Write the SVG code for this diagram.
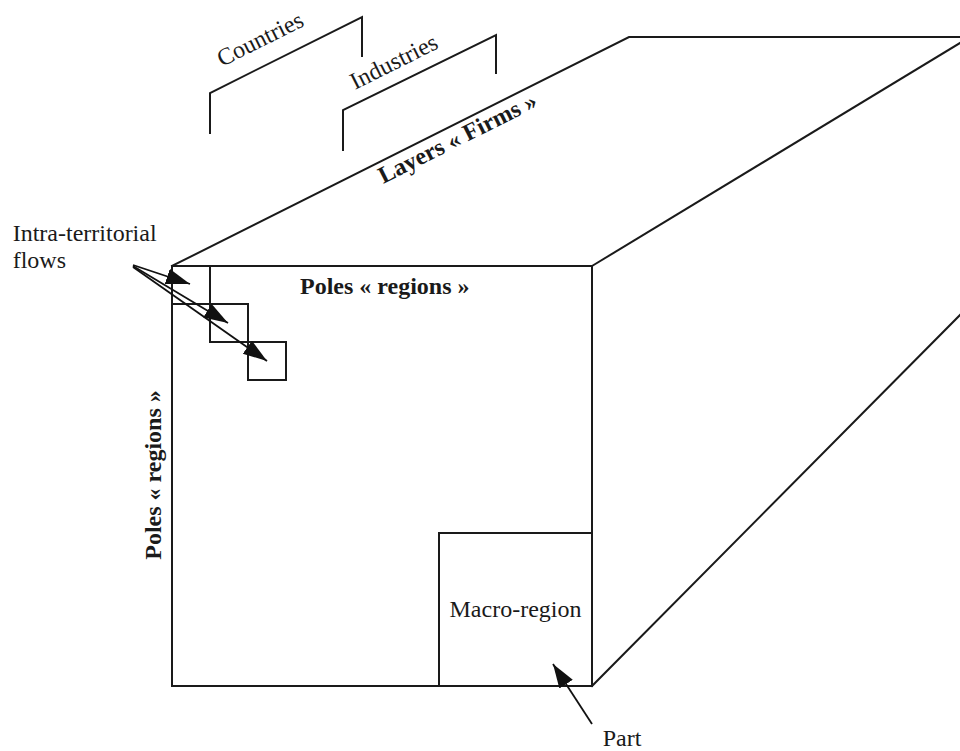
<svg xmlns="http://www.w3.org/2000/svg" width="960" height="751" viewBox="0 0 960 751">
  <style>
    .edge { fill: none; stroke: #1a1a1a; stroke-width: 2; stroke-linejoin: miter; stroke-linecap: square; }
    .arrow { fill: none; stroke: #111; stroke-width: 1.8; }
    .lbl { font-family: 'Liberation Serif', 'DejaVu Serif', serif; font-size: 24px; fill: #1a1a1a; }
    .bold { font-weight: bold; }
  </style>
  <defs>
    <marker id="head" markerUnits="userSpaceOnUse" markerWidth="26" markerHeight="18" refX="24" refY="8" orient="auto">
      <path d="M0,0 L24,8 L0,16 z" fill="#111"/>
    </marker>
  </defs>
  <rect width="960" height="751" fill="#fff"/>

  <g id="block">
    <rect class="edge" x="172" y="266" width="420" height="420"/>
    <polyline class="edge" points="172,266 629,37 960,37"/>
    <line class="edge" x1="592" y1="266" x2="960" y2="43"/>
    <line class="edge" x1="592" y1="686" x2="960" y2="315"/>
  </g>

  <g id="bracket-countries">
    <polyline class="edge" points="210,133 210,93 362,17 362,56"/>
    <text class="lbl" font-family="Liberation Serif, serif" x="263.7" y="46.1" text-anchor="middle" transform="rotate(-26.57 263.7 46.1)">Countries</text>
  </g>

  <g id="bracket-industries">
    <polyline class="edge" points="343,150 343,110 496,35 496,73"/>
    <text class="lbl" font-family="Liberation Serif, serif" x="397.3" y="68.8" text-anchor="middle" transform="rotate(-26.57 397.3 68.8)">Industries</text>
  </g>

  <g id="layers-label">
    <text class="lbl bold" font-family="Liberation Serif, serif" x="461" y="145" text-anchor="middle" transform="rotate(-26.6 461 145)">Layers « Firms »</text>
  </g>

  <g id="poles-top">
    <text class="lbl bold" font-family="Liberation Serif, serif" x="300" y="293.5">Poles « regions »</text>
  </g>

  <g id="poles-left">
    <text class="lbl bold" font-family="Liberation Serif, serif" x="161" y="475" text-anchor="middle" transform="rotate(-90 161 475)">Poles « regions »</text>
  </g>

  <g id="intra-cells">
    <polyline class="edge" points="210,266 210,342 286,342 286,380 248,380 248,304 172,304"/>
  </g>

  <g id="macro-region">
    <polyline class="edge" points="439,686 439,533 592,533"/>
    <text class="lbl" font-family="Liberation Serif, serif" x="515.5" y="616.5" text-anchor="middle">Macro-region</text>
  </g>

  <g id="intra-label">
    <text class="lbl" font-family="Liberation Serif, serif" x="12.7" y="241">Intra-territorial</text>
    <text class="lbl" font-family="Liberation Serif, serif" x="12.7" y="268">flows</text>
  </g>

  <g id="part-label">
    <text class="lbl" font-family="Liberation Serif, serif" x="602.7" y="746">Part</text>
  </g>

  <g id="connectors">
    <line class="arrow" x1="133" y1="265" x2="190" y2="284" marker-end="url(#head)"/>
    <line class="arrow" x1="133" y1="266" x2="228" y2="323" marker-end="url(#head)"/>
    <line class="arrow" x1="133" y1="267" x2="267" y2="361" marker-end="url(#head)"/>
    <line class="arrow" x1="592" y1="724" x2="553" y2="664" marker-end="url(#head)"/>
  </g>
</svg>
